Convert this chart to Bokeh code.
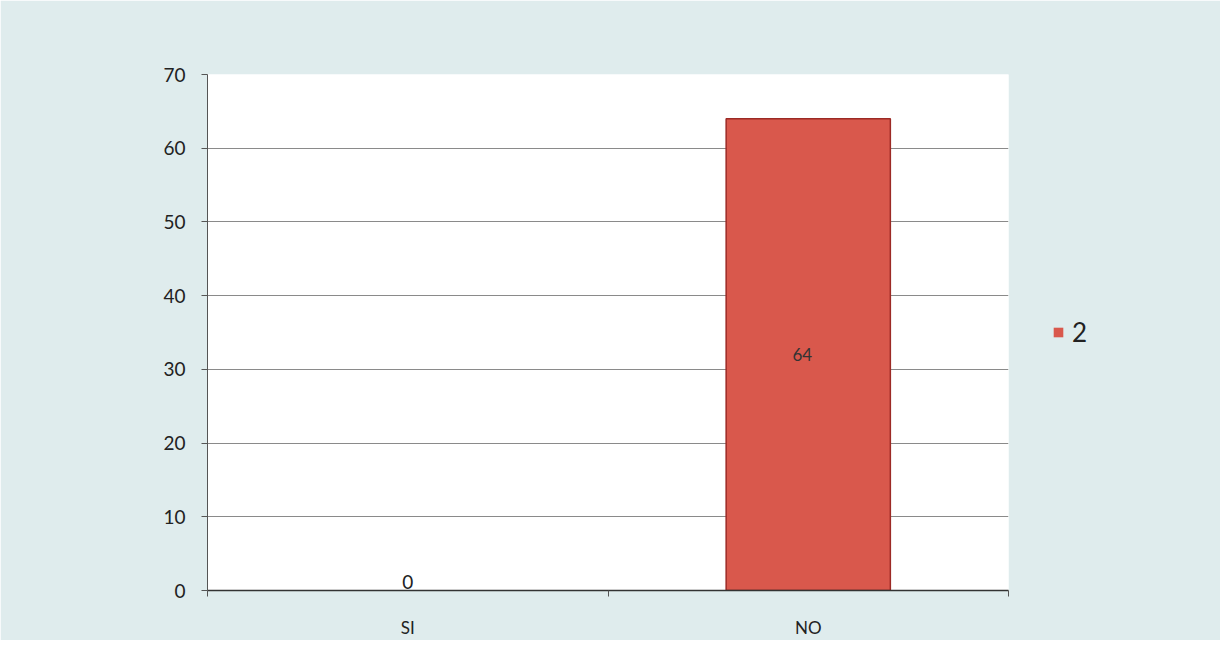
from bokeh.plotting import figure
from bokeh.models import FixedTicker, ColumnDataSource, Legend, LegendItem, Range1d
from bokeh.core.properties import value
from bokeh.embed import file_html
from bokeh.resources import INLINE

categories = ["SI", "NO"]
values = [0, 64]
series_name = "2"
y_ticks = [0, 10, 20, 30, 40, 50, 60, 70]

xpos = [i + 0.5 for i in range(len(categories))]
src = ColumnDataSource(dict(x=xpos, top=values,
                            la=[1.0 if v > 0 else 0.0 for v in values]))

p = figure(output_backend="svg", toolbar_location=None,
           x_range=Range1d(0, len(categories)), y_range=Range1d(0, 70))
p.frame_width = 801
p.frame_height = 516
p.min_border_left = 207
p.min_border_right = 190
p.min_border_top = 74
p.min_border_bottom = 46
p.background_fill_color = "white"
p.border_fill_color = "#dfeced"
p.outline_line_color = None

r = p.vbar(x="x", top="top", width=0.41, source=src,
           fill_color="#d9584c", line_color="#9c2a25", line_width=1.5, line_alpha="la")

# value labels
nz = ColumnDataSource(dict(x=[xpos[i] for i, v in enumerate(values) if v > 0],
                           y=[v / 2 for v in values if v > 0],
                           t=[str(v) for v in values if v > 0]))
zz = ColumnDataSource(dict(x=[xpos[i] for i, v in enumerate(values) if v == 0],
                           y=[0 for v in values if v == 0],
                           t=[str(v) for v in values if v == 0]))
p.text(x="x", y="y", text="t", source=nz, text_align="center", text_baseline="middle",
       text_font=value("Lato"), text_font_size="17px", text_color="#333333", x_offset=-6)
p.text(x="x", y="y", text="t", source=zz, text_align="center", text_baseline="bottom",
       text_font=value("Lato"), text_font_size="19px", text_color="#222222", y_offset=-2)

p.yaxis.ticker = FixedTicker(ticks=y_ticks)
p.yaxis.major_label_text_font = "Lato"
p.yaxis.major_label_text_font_size = "19px"
p.yaxis.major_label_text_color = "#222222"
p.yaxis.axis_line_color = "#555555"
p.yaxis.major_tick_line_color = "#555555"
p.yaxis.major_tick_out = 6
p.yaxis.major_tick_in = 0
p.yaxis.minor_tick_line_color = None
p.yaxis.major_label_standoff = 16

p.xaxis.ticker = FixedTicker(ticks=xpos, minor_ticks=list(range(len(categories) + 1)))
p.xaxis.major_label_overrides = {x: c for x, c in zip(xpos, categories)}
p.xaxis.major_tick_line_color = None
p.xaxis.minor_tick_line_color = "#555555"
p.xaxis.minor_tick_out = 6
p.xaxis.minor_tick_in = 0
p.xaxis.axis_line_color = "#333333"
p.xaxis.axis_line_width = 1.5
p.xaxis.major_label_text_font = "Lato"
p.xaxis.major_label_text_font_size = "17px"
p.xaxis.major_label_text_color = "#222222"
p.xaxis.major_label_standoff = 20

p.xgrid.grid_line_color = None
p.ygrid.grid_line_color = "#8a8a8a"
p.ygrid.grid_line_width = 1

legend = Legend(items=[LegendItem(label=series_name, renderers=[r])],
                location="center_left", background_fill_alpha=0, border_line_color=None,
                label_text_font="Lato", label_text_font_size="26px",
                label_text_color="#222222", glyph_width=12, glyph_height=12,
                padding=0, label_standoff=8)
legend.margin = 44
p.add_layout(legend, "right")

open("out.html", "w").write(file_html(p, INLINE))
